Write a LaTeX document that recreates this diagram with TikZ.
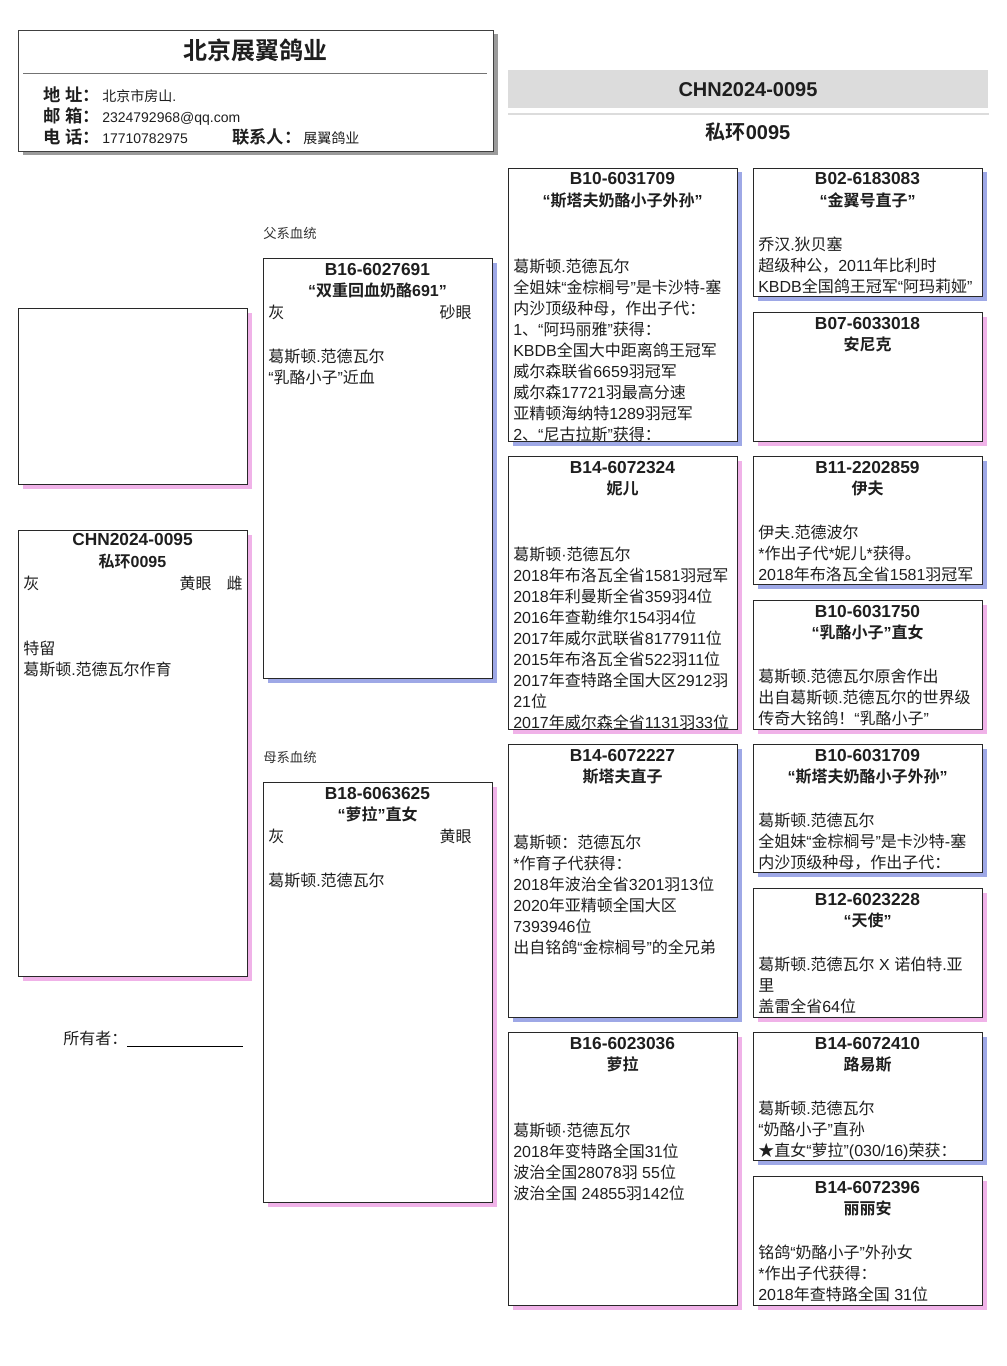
\documentclass[tikz,border=0pt]{standalone}
\usepackage{fontspec}
\setmainfont{Liberation Sans}
\newfontfamily\latfam{Liberation Sans}
\newfontfamily\cjkfam{Noto Sans CJK SC}[BoldFont={Noto Sans CJK SC Bold}]
\usetikzlibrary{shadows}
\XeTeXinterchartokenstate=1
\newXeTeXintercharclass\cjkclass
\newcount\cjkcnt
\newcommand\setcjkrange[2]{\cjkcnt=#1\relax
  \loop\XeTeXcharclass\cjkcnt=\cjkclass\advance\cjkcnt by 1\relax\ifnum\cjkcnt<#2\relax\repeat}
\setcjkrange{"3000}{"3040}
\setcjkrange{"4E00}{"A000}
\setcjkrange{"FF00}{"FFF0}
\XeTeXcharclass"2605=\cjkclass
\newcommand\tocjk{\cjkfam}
\XeTeXinterchartoks 0 \cjkclass={\tocjk}
\XeTeXinterchartoks 4095 \cjkclass={\tocjk}
\XeTeXinterchartoks \cjkclass 0={\latfam}
\XeTeXinterchartoks \cjkclass 4095={\latfam}
\definecolor{shblue}{RGB}{158,168,230}
\definecolor{shpink}{RGB}{240,178,232}
\definecolor{shgray}{RGB}{155,155,155}
\definecolor{bandgray}{RGB}{220,220,220}
\definecolor{txt}{RGB}{30,30,30}
\definecolor{brd}{RGB}{40,40,40}
\newcommand\bx[6]{\node[#2, minimum width={(#5-#3)*0.75pt}, minimum height={(#6-#4)*0.75pt}] (#1) at (#3,#4) {};}
\newcommand\blines[4]{\foreach \t [count=\i] in {#4} {\node[body] (#1-\i) at ({#2},{#3+(\i-1)*21}) {\t};}}
\begin{document}
\begin{tikzpicture}[x=0.75pt,y=-0.75pt,
  card/.style={draw=brd, fill=white, line width=0.75pt, inner sep=0, anchor=north west},
  cock/.style={card, general shadow={fill=shblue, shadow xshift=3pt, shadow yshift=-3pt}},
  hen/.style={card, general shadow={fill=shpink, shadow xshift=3pt, shadow yshift=-3pt}},
  body/.style={font=\fontsize{12pt}{15.75pt}\selectfont, text=txt, inner sep=0, anchor=base west},
  ring/.style={font=\bfseries\fontsize{13pt}{15pt}\selectfont, text=txt, inner sep=0, anchor=base},
  ttl/.style={font=\bfseries\fontsize{12pt}{15pt}\selectfont, text=txt, inner sep=0, anchor=base},
  lab/.style={font=\bfseries\fontsize{13pt}{15pt}\selectfont, text=txt, inner sep=0, anchor=base west},
  val/.style={font=\fontsize{10.5pt}{12pt}\selectfont, text=txt, inner sep=0, anchor=base west},
  side/.style={font=\fontsize{10pt}{12pt}\selectfont, text=black!80, inner sep=0, anchor=base west},
  bandt/.style={font=\bfseries\fontsize{15pt}{18pt}\selectfont, text=txt, inner sep=0, anchor=base},
]
\useasboundingbox (0,0) rectangle (1006,1366);

% header
\bx{hdr}{card, draw=black!75, general shadow={fill=shgray, shadow xshift=3pt, shadow yshift=-3pt}}{18}{30}{493}{151}
\node[font=\bfseries\fontsize{18pt}{20pt}\selectfont, text=txt, anchor=base, inner sep=0] (hdrtitle) at (255,60) {北京展翼鸽业};
\coordinate (hl1) at (23,74); \coordinate (hl2) at (487,74);
\draw[black!55, line width=0.75pt] (hl1) -- (hl2);
\node[lab] (l1) at (43,101.5) {地 址：};
\node[val] (v1) at (102,101.5) {北京市房山.};
\node[lab] (l2) at (43,122.5) {邮 箱：};
\node[val] (v2) at (102,122.5) {2324792968@qq.com};
\node[lab] (l3) at (43,143.5) {电 话：};
\node[val] (v3) at (102,143.5) {17710782975};
\node[lab] (l4) at (232,143.5) {联系人：};
\node[val] (v4) at (303,143.5) {展翼鸽业};

% band
\node[fill=bandgray, inner sep=0, anchor=north west, minimum width={480*0.75pt}, minimum height={38*0.75pt}] (band) at (508,70) {};
\draw[bandgray, line width=1.5pt] ([yshift=-4pt]band.south west) -- ([yshift=-4pt]band.south east);
\node[bandt] (bt1) at (748,97) {CHN2024-0095};
\node[bandt] (bt2) at (748,140) {私环0095};

% photo and main bird
\bx{photo}{hen}{18}{308}{247}{484}
\bx{me}{hen}{18}{530}{247}{976}
\node[ring] (me1) at (132.5,545.5) {CHN2024-0095};
\node[ttl] (me2) at (132.5,567) {私环0095};
\node[body] (me3) at (23,589) {灰};
\node[body, anchor=base east] (me4) at (212,589) {黄眼};
\node[body, anchor=base east] (me5) at (243,589) {雌};
\blines{me6}{23}{654}{{特留},{葛斯顿.范德瓦尔作育}}
\node[body] (owner) at (63,1044) {所有者：};
\coordinate (ul1) at (127,1046); \coordinate (ul2) at (243,1046);
\draw[black, line width=0.75pt] (ul1) -- (ul2);

% parents
\node[side] (fx) at (263,238) {父系血统};
\bx{sire}{cock}{263}{258}{492}{678}
\node[ring] (sire1) at (377.5,275) {B16-6027691};
\node[ttl] (sire2) at (377.5,296) {“双重回血奶酪691”};
\node[body] (sire3) at (268,318) {灰};
\node[body, anchor=base east] (sire4) at (472,318) {砂眼};
\blines{sire5}{268}{362}{{葛斯顿.范德瓦尔},{“乳酪小子”近血}}

\node[side] (mx) at (263,762) {母系血统};
\bx{dam}{hen}{263}{782}{492}{1202}
\node[ring] (dam1) at (377.5,799) {B18-6063625};
\node[ttl] (dam2) at (377.5,820) {“萝拉”直女};
\node[body] (dam3) at (268,842) {灰};
\node[body, anchor=base east] (dam4) at (472,842) {黄眼};
\blines{dam5}{268}{886}{{葛斯顿.范德瓦尔}}

% grandparents
\bx{ga}{cock}{508}{168}{737}{441}
\node[ring] (ga1) at (622.5,185) {B10-6031709};
\node[ttl] (ga2) at (622.5,206) {“斯塔夫奶酪小子外孙”};
\begin{scope}
\clip (ga.north west) rectangle (ga.south east);
\blines{ga3}{513}{272}{{葛斯顿.范德瓦尔},{全姐妹“金棕榈号”是卡沙特-塞},{内沙顶级种母，作出子代：},{1、“阿玛丽雅”获得：},{KBDB全国大中距离鸽王冠军},{威尔森联省6659羽冠军},{威尔森17721羽最高分速},{亚精顿海纳特1289羽冠军},{2、“尼古拉斯”获得：}}
\end{scope}

\bx{gb}{hen}{508}{456}{737}{729}
\node[ring] (gb1) at (622.5,473) {B14-6072324};
\node[ttl] (gb2) at (622.5,494) {妮儿};
\begin{scope}
\clip (gb.north west) rectangle (gb.south east);
\blines{gb3}{513}{560}{{葛斯顿·范德瓦尔},{2018年布洛瓦全省1581羽冠军},{2018年利曼斯全省359羽4位},{2016年查勒维尔154羽4位},{2017年威尔武联省8177911位},{2015年布洛瓦全省522羽11位},{2017年查特路全国大区2912羽},{21位},{2017年威尔森全省1131羽33位}}
\end{scope}

\bx{gc}{cock}{508}{744}{737}{1017}
\node[ring] (gc1) at (622.5,761) {B14-6072227};
\node[ttl] (gc2) at (622.5,782) {斯塔夫直子};
\blines{gc3}{513}{848}{{葛斯顿：范德瓦尔},{*作育子代获得：},{2018年波治全省3201羽13位},{2020年亚精顿全国大区},{7393946位},{出自铭鸽“金棕榈号”的全兄弟}}

\bx{gd}{hen}{508}{1032}{737}{1305}
\node[ring] (gd1) at (622.5,1049) {B16-6023036};
\node[ttl] (gd2) at (622.5,1070) {萝拉};
\blines{gd3}{513}{1136}{{葛斯顿·范德瓦尔},{2018年变特路全国31位},{波治全国28078羽 55位},{波治全国 24855羽142位}}

% great-grandparents
\bx{ge}{cock}{753}{168}{982}{296}
\node[ring] (ge1) at (867.5,185) {B02-6183083};
\node[ttl] (ge2) at (867.5,206) {“金翼号直子”};
\blines{ge3}{758}{250}{{乔汉.狄贝塞},{超级种公，2011年比利时},{KBDB全国鸽王冠军“阿玛莉娅”}}

\bx{gf}{hen}{753}{312}{982}{441}
\node[ring] (gf1) at (867.5,329) {B07-6033018};
\node[ttl] (gf2) at (867.5,350) {安尼克};

\bx{gg}{cock}{753}{456}{982}{584}
\node[ring] (gg1) at (867.5,473) {B11-2202859};
\node[ttl] (gg2) at (867.5,494) {伊夫};
\blines{gg3}{758}{538}{{伊夫.范德波尔},{*作出子代*妮儿*获得。},{2018年布洛瓦全省1581羽冠军}}

\bx{gh}{hen}{753}{600}{982}{729}
\node[ring] (gh1) at (867.5,617) {B10-6031750};
\node[ttl] (gh2) at (867.5,638) {“乳酪小子”直女};
\blines{gh3}{758}{682}{{葛斯顿.范德瓦尔原舍作出},{出自葛斯顿.范德瓦尔的世界级},{传奇大铭鸽！“乳酪小子”}}

\bx{gi}{cock}{753}{744}{982}{872}
\node[ring] (gi1) at (867.5,761) {B10-6031709};
\node[ttl] (gi2) at (867.5,782) {“斯塔夫奶酪小子外孙”};
\blines{gi3}{758}{826}{{葛斯顿.范德瓦尔},{全姐妹“金棕榈号”是卡沙特-塞},{内沙顶级种母，作出子代：}}

\bx{gj}{hen}{753}{888}{982}{1017}
\node[ring] (gj1) at (867.5,905) {B12-6023228};
\node[ttl] (gj2) at (867.5,926) {“天使”};
\blines{gj3}{758}{970}{{葛斯顿.范德瓦尔 X 诺伯特.亚},{里},{盖雷全省64位}}

\bx{gk}{cock}{753}{1032}{982}{1160}
\node[ring] (gk1) at (867.5,1049) {B14-6072410};
\node[ttl] (gk2) at (867.5,1070) {路易斯};
\blines{gk3}{758}{1114}{{葛斯顿.范德瓦尔},{“奶酪小子”直孙},{★直女“萝拉”(030/16)荣获：}}

\bx{gl}{hen}{753}{1176}{982}{1305}
\node[ring] (gl1) at (867.5,1193) {B14-6072396};
\node[ttl] (gl2) at (867.5,1214) {丽丽安};
\blines{gl3}{758}{1258}{{铭鸽“奶酪小子”外孙女},{*作出子代获得：},{2018年查特路全国 31位}}
\end{tikzpicture}
\end{document}
